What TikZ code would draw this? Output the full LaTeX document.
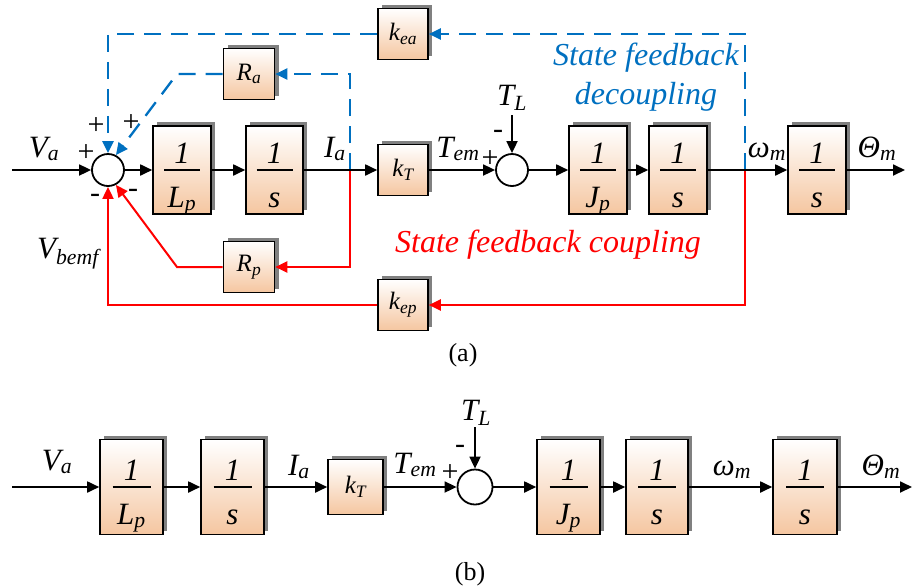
\documentclass[tikz,border=0pt]{standalone}
\usepackage{fontspec}
\setmainfont{Liberation Serif}
\usetikzlibrary{arrows.meta,shadows}
\definecolor{boxor}{RGB}{245,198,160}
\definecolor{fbblue}{RGB}{0,112,192}
\definecolor{fbred}{RGB}{255,0,0}
\newcommand\sbx[1]{\textsubscript{#1}}
% name, cx, cy, w, h, denominator, half bar
\newcommand\fracbox[7]{%
  \node[blk, minimum width=#4pt, minimum height=#5pt] (#1) at (#2,#3) {};
  \node[frt, anchor=base] (#1-n) at (#2,#3-7) {1};
  \node[frt, anchor=base] (#1-d) at (#2,#3+37) {#6};
  \draw[line width=1.6pt] (#2-#7,#3) -- (#2+#7,#3);
}
\begin{document}
\begin{tikzpicture}[x=1pt,y=-1pt,
  blk/.style={draw, line width=1.6pt, top color=white, bottom color=boxor,
    inner sep=0pt, general shadow={fill=black!50, shadow xshift=4pt, shadow yshift=4pt}},
  gain/.style={blk, minimum width=50pt, minimum height=51pt,
    font=\fontsize{25}{30}\selectfont\itshape},
  frt/.style={inner sep=0pt, font=\fontsize{31}{36}\selectfont\itshape},
  sumc/.style={circle, draw, line width=1.8pt, fill=white, inner sep=0pt},
  tip/.style={-{Triangle[length=12pt,width=11pt]}},
  sig/.style={line width=1.8pt, tip},
  bdash/.style={line width=2.3pt, color=fbblue, dash pattern=on 17pt off 10pt, tip},
  rline/.style={line width=2pt, color=fbred, tip},
  lab/.style={inner sep=0pt, anchor=base, font=\fontsize{31}{36}\selectfont\itshape},
  sgn/.style={inner sep=0pt, font=\fontsize{30}{34}\selectfont},
  capt/.style={inner sep=0pt, anchor=base, font=\fontsize{26}{30}\selectfont},
  fbt/.style={inner sep=0pt, anchor=base, font=\fontsize{32}{38}\selectfont\itshape}
]
\useasboundingbox (0,0) rectangle (912,587);

% ---------------- (a) ----------------
\node[sumc, minimum size=32pt] (S1) at (108,170) {};
\fracbox{Lpa}{182}{170}{58}{88}{L\sbx{p}}{18}
\fracbox{sa}{274.5}{170}{57}{88}{s}{18}
\node[gain] (kTa) at (403,170) {k\sbx{T}};
\node[sumc, minimum size=32pt] (S2) at (512,170) {};
\fracbox{Jpa}{598}{170}{58}{88}{J\sbx{p}}{18}
\fracbox{s2a}{678}{170}{58}{88}{s}{18}
\fracbox{s3a}{817}{170}{58}{88}{s}{18}

\node[gain] (kea) at (403,34) {k\sbx{ea}};
\node[gain, minimum width=51pt] (Ra) at (249,74) {R\sbx{a}};
\node[gain, minimum width=51pt] (Rp) at (249,267) {R\sbx{p}};
\node[gain] (kep) at (403,305) {k\sbx{ep}};

\coordinate (ina) at (12,170);
\coordinate (outa) at (905,170);
\coordinate (tla) at (512,115);
\coordinate (br1) at (350,170);
\coordinate (br2) at (745,170);
\coordinate (rak) at (177,74);
\coordinate (rpk) at (177,267);

% feedback paths
\draw[bdash] (br2) |- (kea);
\draw[bdash] (kea) -| (S1);
\draw[bdash] (br1) |- (Ra);
\draw[bdash] (Ra.west) -- (rak) -- (S1.62);
\draw[rline] (br1) |- (Rp);
\draw[rline] (Rp.west) -- (rpk) -- (S1.-62);
\draw[rline] (br2) |- (kep);
\draw[rline] (kep) -| (S1);

% forward path
\draw[sig] (ina) -- (S1);
\draw[sig] (S1) -- (Lpa);
\draw[sig] (Lpa) -- (sa);
\draw[sig] (sa) -- (kTa);
\draw[sig] (kTa) -- (S2);
\draw[sig] (S2) -- (Jpa);
\draw[sig] (Jpa) -- (s2a);
\draw[sig] (s2a) -- (s3a);
\draw[sig] (s3a) -- (outa);
\draw[sig] (tla) -- (S2);

% labels
\node[lab] (Va) at (44,157) {V\sbx{a}};
\node[lab] (Ia) at (335,157) {I\sbx{a}};
\node[lab] (Tema) at (458,157) {T\sbx{em}};
\node[lab] (TLa) at (512,105) {T\sbx{L}};
\node[lab] (wma) at (767,157) {ω\sbx{m}};
\node[lab] (thma) at (877,157) {Θ\sbx{m}};
\node[lab] (Vb) at (68,258) {V\sbx{bemf}};
\node[sgn] (p1) at (86,153) {+};
\node[sgn] (p2) at (96,126) {+};
\node[sgn] (p3) at (131,123) {+};
\node[sgn] (m1) at (95,198) {-};
\node[sgn] (m2) at (133,193) {-};
\node[sgn] (p4) at (490,159) {+};
\node[sgn] (m3) at (498,134) {-};
\node[fbt, text=fbblue] (fb1) at (646,65) {State feedback};
\node[fbt, text=fbblue] (fb2) at (646,104) {decoupling};
\node[fbt, text=fbred] (fb3) at (548,252) {State feedback coupling};
\node[capt] (ca) at (463,361) {(a)};

% ---------------- (b) ----------------
\fracbox{Lpb}{131.5}{487}{63}{95}{L\sbx{p}}{19}
\fracbox{sb}{232.5}{487}{63}{95}{s}{19}
\node[gain, minimum width=55pt, minimum height=55pt] (kTb) at (355.5,487) {k\sbx{T}};
\node[sumc, minimum size=35pt] (S3) at (475,487) {};
\fracbox{Jpb}{568.5}{487}{63}{95}{J\sbx{p}}{19}
\fracbox{s2b}{657}{487}{62}{95}{s}{19}
\fracbox{s3b}{805}{487}{64}{95}{s}{19}

\coordinate (inb) at (12,487);
\coordinate (outb) at (912,487);
\coordinate (tlb) at (475,427);

\draw[sig] (inb) -- (Lpb);
\draw[sig] (Lpb) -- (sb);
\draw[sig] (sb) -- (kTb);
\draw[sig] (kTb) -- (S3);
\draw[sig] (S3) -- (Jpb);
\draw[sig] (Jpb) -- (s2b);
\draw[sig] (s2b) -- (s3b);
\draw[sig] (s3b) -- (outb);
\draw[sig] (tlb) -- (S3);

\node[lab] (Vab) at (57,470) {V\sbx{a}};
\node[lab] (Iab) at (299,475) {I\sbx{a}};
\node[lab] (Temb) at (415,473) {T\sbx{em}};
\node[lab] (TLb) at (476,420) {T\sbx{L}};
\node[lab] (wmb) at (732,475) {ω\sbx{m}};
\node[lab] (thmb) at (881,475) {Θ\sbx{m}};
\node[sgn] (p5) at (450,473) {+};
\node[sgn] (m4) at (460,449) {-};
\node[capt] (cb) at (470,580) {(b)};
\end{tikzpicture}
\end{document}
